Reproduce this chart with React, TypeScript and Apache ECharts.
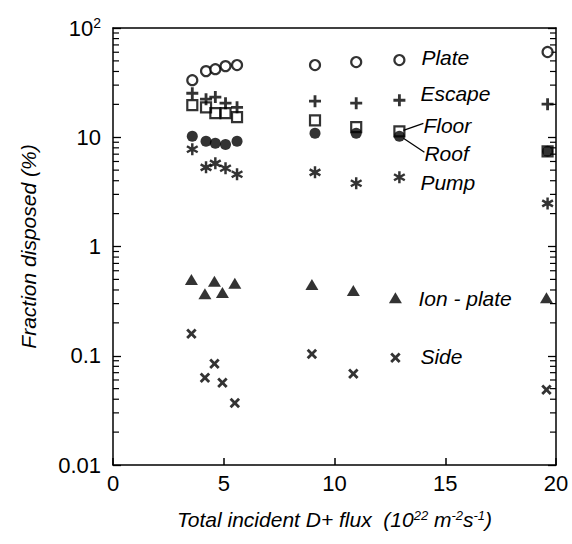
import React, { useEffect, useRef } from "react";
import * as echarts from "echarts";

// ---- data ----
const flux = [3.58, 4.2, 4.62, 5.08, 5.6, 9.12, 10.98, 12.93, 19.62];
const fluxLow = [3.54, 4.15, 4.58, 4.94, 5.5, 8.98, 10.85, 12.75, 19.57];

const plate = [33.3, 40.3, 42, 44.8, 45.8, 45.8, 48.8, 50.9, 60.3];
const escape = [25.3, 22.3, 23.3, 20.5, 18.8, 21.4, 20.5, 21.8, 20.1];
const floor = [19.7, 18.8, 16.6, 16.6, 15.3, 14.3, 12.4, 11.3, 7.44];
const roof = [10.2, 9.2, 8.8, 8.6, 9.2, 10.9, 10.9, 10.2, 7.44];
const pump = [7.76, 5.3, 5.77, 5.2, 4.58, 4.77, 3.79, 4.3, 2.48];
const ionPlate = [0.5, 0.37, 0.48, 0.38, 0.46, 0.448, 0.395, 0.34, 0.34];
const side = [0.159, 0.0628, 0.0845, 0.0565, 0.037, 0.104, 0.0684, 0.096, 0.0488];

const seriesNames = ["Plate", "Escape", "Floor", "Roof", "Pump", "Ion - plate", "Side"];
const labelIndex = 7; // the column carrying the text labels

const xTicks = [0, 5, 10, 15, 20];
const decades = [0.01, 0.1, 1, 10];
const minorMultipliers = [2, 3, 4, 5, 6, 7, 8, 9];

const FONT = '"Liberation Sans", Arial, Helvetica, sans-serif';

const PLUS = "path://M4.2,0H6.8V4.2H11V6.8H6.8V11H4.2V6.8H0V4.2H4.2Z";
const STAR =
  "path://M4,0H6V10H4Z M8.83,1.634L9.83,3.366L1.17,8.366L0.17,6.634Z M0.17,3.366L1.17,1.634L9.83,6.634L8.83,8.366Z";

function pairs(xs: number[], ys: number[]) {
  return ys.map((y, i) => [xs[i], y]);
}

function yLabel(v: number) {
  const r = Number(v.toPrecision(6));
  if (r === 100) return "{a|10}{b|2}";
  return String(r);
}

export default function App() {
  const ref = useRef<HTMLDivElement>(null);

  useEffect(() => {
    if (!ref.current) return;
    const chart = echarts.init(ref.current, null, { renderer: "svg" });

    const minorTicks: number[][] = [];
    decades.forEach((d) => minorMultipliers.forEach((m) => minorTicks.push([0, Number((d * m).toPrecision(6))])));

    const scatterBase = {
      type: "scatter",
      xAxisIndex: 0,
      yAxisIndex: 0,
      z: 5,
      silent: true,
    };

    const option: any = {
      animation: false,
      backgroundColor: "#fff",
      grid: { left: 113, right: 16, top: 28, bottom: 79, show: false },
      xAxis: [
        {
          type: "value",
          min: xTicks[0],
          max: xTicks[xTicks.length - 1],
          interval: 5,
          position: "bottom",
          axisLine: { show: true, onZero: false, lineStyle: { color: "#000", width: 1.5 } },
          axisTick: { show: true, inside: true, length: 7, lineStyle: { color: "#000", width: 1.5 } },
          splitLine: { show: false },
          axisLabel: { color: "#000", fontSize: 22, fontFamily: FONT, margin: 7 },
          name: "Total incident D+ flux  (10{s|22} m{s|-2}s{s|-1})",
          nameLocation: "middle",
          nameGap: 44,
          nameTextStyle: {
            color: "#000",
            fontSize: 21,
            fontStyle: "italic",
            fontFamily: FONT,
            rich: {
              s: { fontSize: 13, fontStyle: "italic", fontFamily: FONT, color: "#000", verticalAlign: "top", padding: [0, 0, 8, 0] },
            },
          },
        },
        {
          type: "value",
          min: xTicks[0],
          max: xTicks[xTicks.length - 1],
          position: "top",
          axisLine: { show: true, onZero: false, lineStyle: { color: "#000", width: 1.5 } },
          axisTick: { show: false },
          axisLabel: { show: false },
          splitLine: { show: false },
        },
      ],
      yAxis: [
        {
          type: "log",
          logBase: 10,
          min: 0.01,
          max: 100,
          position: "left",
          axisLine: { show: true, onZero: false, lineStyle: { color: "#000", width: 1.5 } },
          axisTick: { show: true, inside: true, length: 8, lineStyle: { color: "#000", width: 1.3 } },
          splitLine: { show: false },
          axisLabel: {
            color: "#000",
            fontSize: 22,
            fontFamily: FONT,
            margin: 12,
            formatter: yLabel,
            rich: {
              a: { fontSize: 22, fontFamily: FONT, color: "#000" },
              b: { fontSize: 14, fontFamily: FONT, color: "#000", verticalAlign: "top", padding: [0, 0, 10, 0] },
            },
          },
          name: "Fraction disposed (%)",
          nameLocation: "middle",
          nameGap: 74,
          nameTextStyle: { color: "#000", fontSize: 21, fontStyle: "italic", fontFamily: FONT },
        },
        {
          type: "log",
          logBase: 10,
          min: 0.01,
          max: 100,
          position: "right",
          axisLine: { show: true, onZero: false, lineStyle: { color: "#000", width: 1.5 } },
          axisTick: { show: true, inside: true, length: 8, lineStyle: { color: "#000", width: 1.3 } },
          axisLabel: { show: false },
          splitLine: { show: false },
        },
      ],
      series: [
        {
          type: "custom",
          name: "minorTicks",
          coordinateSystem: "cartesian2d",
          clip: false,
          silent: true,
          z: 3,
          data: minorTicks,
          encode: { x: 0, y: 1 },
          renderItem: (_params: any, api: any) => {
            const v = api.value(1);
            const l = api.coord([xTicks[0], v]);
            const r = api.coord([xTicks[xTicks.length - 1], v]);
            return {
              type: "group",
              children: [
                { type: "line", shape: { x1: l[0], y1: l[1], x2: l[0] + 6, y2: l[1] }, style: { stroke: "#000", lineWidth: 1.2 } },
                { type: "line", shape: { x1: r[0], y1: r[1], x2: r[0] - 6, y2: r[1] }, style: { stroke: "#000", lineWidth: 1.2 } },
              ],
            };
          },
        },
        {
          ...scatterBase,
          name: seriesNames[0],
          symbol: "circle",
          symbolSize: 10,
          itemStyle: { color: "#fff", borderColor: "#000", borderWidth: 2.2 },
          data: pairs(flux, plate),
        },
        {
          ...scatterBase,
          name: seriesNames[1],
          symbol: PLUS,
          symbolSize: 12,
          itemStyle: { color: "#000" },
          data: pairs(flux, escape),
        },
        {
          ...scatterBase,
          name: seriesNames[2],
          symbol: "rect",
          symbolSize: 10,
          itemStyle: { color: "rgba(255,255,255,0)", borderColor: "#000", borderWidth: 2.2 },
          data: pairs(flux, floor),
        },
        {
          ...scatterBase,
          name: seriesNames[3],
          symbol: "circle",
          symbolSize: 11,
          itemStyle: { color: "#000" },
          data: pairs(flux, roof),
        },
        {
          ...scatterBase,
          name: seriesNames[4],
          symbol: STAR,
          symbolSize: 12,
          itemStyle: { color: "#000" },
          data: pairs(flux, pump),
        },
        {
          ...scatterBase,
          name: seriesNames[5],
          symbol: "triangle",
          symbolSize: [13, 11],
          itemStyle: { color: "#000" },
          data: pairs(fluxLow, ionPlate),
        },
        {
          ...scatterBase,
          name: seriesNames[6],
          symbol: PLUS,
          symbolSize: 12,
          symbolRotate: 45,
          itemStyle: { color: "#000" },
          data: pairs(fluxLow, side),
        },
      ],
    };

    chart.setOption(option);

    // text labels next to the labelled column, positioned from the data
    const px = (x: number, y: number) => chart.convertToPixel({ xAxisIndex: 0, yAxisIndex: 0 }, [x, y]) as number[];
    const pPlate = px(flux[labelIndex], plate[labelIndex]);
    const pEscape = px(flux[labelIndex], escape[labelIndex]);
    const pFloor = px(flux[labelIndex], floor[labelIndex]);
    const pRoof = px(flux[labelIndex], roof[labelIndex]);
    const pPump = px(flux[labelIndex], pump[labelIndex]);
    const pIon = px(fluxLow[labelIndex], ionPlate[labelIndex]);
    const pSide = px(fluxLow[labelIndex], side[labelIndex]);

    const txt = (text: string, x: number, y: number) => ({
      type: "text",
      silent: true,
      z: 10,
      style: {
        text,
        x,
        y,
        fill: "#000",
        font: `italic 21px ${FONT}`,
        fontSize: 21,
        fontStyle: "italic",
        fontFamily: FONT,
        align: "left",
        verticalAlign: "middle",
      },
    });
    const ln = (x1: number, y1: number, x2: number, y2: number) => ({
      type: "line",
      silent: true,
      z: 10,
      shape: { x1, y1, x2, y2 },
      style: { stroke: "#000", lineWidth: 1.3 },
    });

    chart.setOption({
      graphic: [
        txt(seriesNames[0], pPlate[0] + 22, pPlate[1] - 3),
        txt(seriesNames[1], pEscape[0] + 21, pEscape[1] - 7),
        txt(seriesNames[2], pFloor[0] + 24, pFloor[1] - 6),
        txt(seriesNames[3], pRoof[0] + 25, pRoof[1] + 17),
        txt(seriesNames[4], pPump[0] + 21, pPump[1] + 5),
        txt(seriesNames[5], pIon[0] + 23, pIon[1] + 1),
        txt(seriesNames[6], pSide[0] + 25, pSide[1] - 1),
        ln(pFloor[0] + 4, pFloor[1] - 1, pFloor[0] + 24, pFloor[1] - 8),
        ln(pRoof[0] + 4, pRoof[1] + 2, pRoof[0] + 25, pRoof[1] + 16),
      ],
    });

    return () => chart.dispose();
  }, []);

  return (
    <div
      ref={ref}
      style={{ position: "absolute", left: 0, top: 0, width: 572, height: 544, background: "#fff" }}
    />
  );
}
